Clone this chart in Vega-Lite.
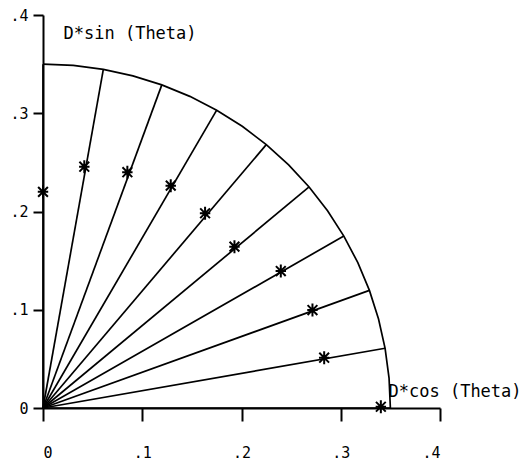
{
  "$schema": "https://vega.github.io/schema/vega-lite/v6.json",
  "autosize": "none",
  "width": 397,
  "height": 393,
  "padding": {"left": 43, "top": 15, "right": 83, "bottom": 53},
  "background": "white",
  "config": {
    "view": {"stroke": null},
    "font": "DejaVu Sans Mono",
    "axis": {
      "grid": false,
      "domainColor": "black",
      "domainWidth": 2,
      "tickColor": "black",
      "tickWidth": 2,
      "labelColor": "black",
      "labelFont": "DejaVu Sans Mono",
      "labelFontSize": 15,
      "labelFontWeight": "normal",
      "titleColor": "black",
      "titleFont": "DejaVu Sans Mono",
      "titleFontSize": 17,
      "titleFontWeight": "normal"
    }
  },
  "datasets": {
    "rays": [
      {"angle": 0, "ox": 0, "oy": 0, "ex": 0.35, "ey": 0},
      {"angle": 10, "ox": 0, "oy": 0, "ex": 0.34468, "ey": 0.06078},
      {"angle": 20, "ox": 0, "oy": 0, "ex": 0.32889, "ey": 0.11971},
      {"angle": 30, "ox": 0, "oy": 0, "ex": 0.30311, "ey": 0.175},
      {"angle": 40, "ox": 0, "oy": 0, "ex": 0.26811, "ey": 0.22498},
      {"angle": 50, "ox": 0, "oy": 0, "ex": 0.22498, "ey": 0.26811},
      {"angle": 60, "ox": 0, "oy": 0, "ex": 0.175, "ey": 0.30311},
      {"angle": 70, "ox": 0, "oy": 0, "ex": 0.11971, "ey": 0.32889},
      {"angle": 80, "ox": 0, "oy": 0, "ex": 0.06078, "ey": 0.34468},
      {"angle": 90, "ox": 0, "oy": 0, "ex": 0, "ey": 0.35}
    ],
    "arc": [
      {"angle": 0, "ax": 0.35, "ay": 0},
      {"angle": 5, "ax": 0.34867, "ay": 0.0305},
      {"angle": 10, "ax": 0.34468, "ay": 0.06078},
      {"angle": 15, "ax": 0.33807, "ay": 0.09059},
      {"angle": 20, "ax": 0.32889, "ay": 0.11971},
      {"angle": 25, "ax": 0.31721, "ay": 0.14792},
      {"angle": 30, "ax": 0.30311, "ay": 0.175},
      {"angle": 35, "ax": 0.2867, "ay": 0.20075},
      {"angle": 40, "ax": 0.26811, "ay": 0.22498},
      {"angle": 45, "ax": 0.24749, "ay": 0.24749},
      {"angle": 50, "ax": 0.22498, "ay": 0.26811},
      {"angle": 55, "ax": 0.20075, "ay": 0.2867},
      {"angle": 60, "ax": 0.175, "ay": 0.30311},
      {"angle": 65, "ax": 0.14792, "ay": 0.31721},
      {"angle": 70, "ax": 0.11971, "ay": 0.32889},
      {"angle": 75, "ax": 0.09059, "ay": 0.33807},
      {"angle": 80, "ax": 0.06078, "ay": 0.34468},
      {"angle": 85, "ax": 0.0305, "ay": 0.34867},
      {"angle": 90, "ax": 0, "ay": 0.35}
    ],
    "stars": [
      {"theta": 90, "dcos": 0.0, "dsin": 0.220},
      {"theta": 80, "dcos": 0.0416, "dsin": 0.2456},
      {"theta": 70, "dcos": 0.085, "dsin": 0.240},
      {"theta": 60, "dcos": 0.1287, "dsin": 0.2263},
      {"theta": 50, "dcos": 0.1633, "dsin": 0.1982},
      {"theta": 40, "dcos": 0.1929, "dsin": 0.1642},
      {"theta": 30, "dcos": 0.2396, "dsin": 0.1394},
      {"theta": 20, "dcos": 0.2715, "dsin": 0.0997},
      {"theta": 10, "dcos": 0.2833, "dsin": 0.0512},
      {"theta": 0, "dcos": 0.3404, "dsin": 0.0013}
    ]
  },
  "layer": [
    {
      "data": {"name": "rays"},
      "mark": {"type": "rule", "color": "black", "strokeWidth": 1.7},
      "encoding": {
        "x": {
          "field": "ox",
          "type": "quantitative",
          "scale": {"domain": [0, 0.4], "nice": false, "zero": true},
          "axis": {
            "orient": "bottom",
            "values": [0, 0.1, 0.2, 0.3, 0.4],
            "tickSize": 13,
            "labelPadding": 24,
            "labelDx": 4,
            "labelExpr": "datum.value == 0 ? '0' : replace(format(datum.value, '.1f'), '0.', '.')",
            "title": "D*cos (Theta)",
            "titleX": 345,
            "titleY": -17,
            "titleAlign": "left",
            "titleBaseline": "middle",
            "titleAngle": 0
          }
        },
        "y": {
          "field": "oy",
          "type": "quantitative",
          "scale": {"domain": [0, 0.4], "nice": false, "zero": true},
          "axis": {
            "orient": "left",
            "values": [0, 0.1, 0.2, 0.3, 0.4],
            "tickSize": 10,
            "labelPadding": 5,
            "labelExpr": "datum.value == 0 ? '0' : replace(format(datum.value, '.1f'), '0.', '.')",
            "title": "D*sin (Theta)",
            "titleX": 20,
            "titleY": 18,
            "titleAlign": "left",
            "titleBaseline": "middle",
            "titleAngle": 0
          }
        },
        "x2": {"field": "ex"},
        "y2": {"field": "ey"}
      }
    },
    {
      "data": {"name": "arc"},
      "mark": {"type": "line", "color": "black", "strokeWidth": 1.7},
      "encoding": {
        "x": {"field": "ax", "type": "quantitative"},
        "y": {"field": "ay", "type": "quantitative"},
        "order": {"field": "angle"}
      }
    },
    {
      "data": {"name": "stars"},
      "mark": {
        "type": "point",
        "shape": "M0,-1L0,1M-0.8,0L0.8,0M-0.75,-0.75L0.75,0.75M-0.75,0.75L0.75,-0.75",
        "size": 170,
        "filled": false,
        "stroke": "black",
        "strokeWidth": 2,
        "opacity": 1
      },
      "encoding": {
        "x": {"field": "dcos", "type": "quantitative"},
        "y": {"field": "dsin", "type": "quantitative"}
      }
    }
  ]
}
